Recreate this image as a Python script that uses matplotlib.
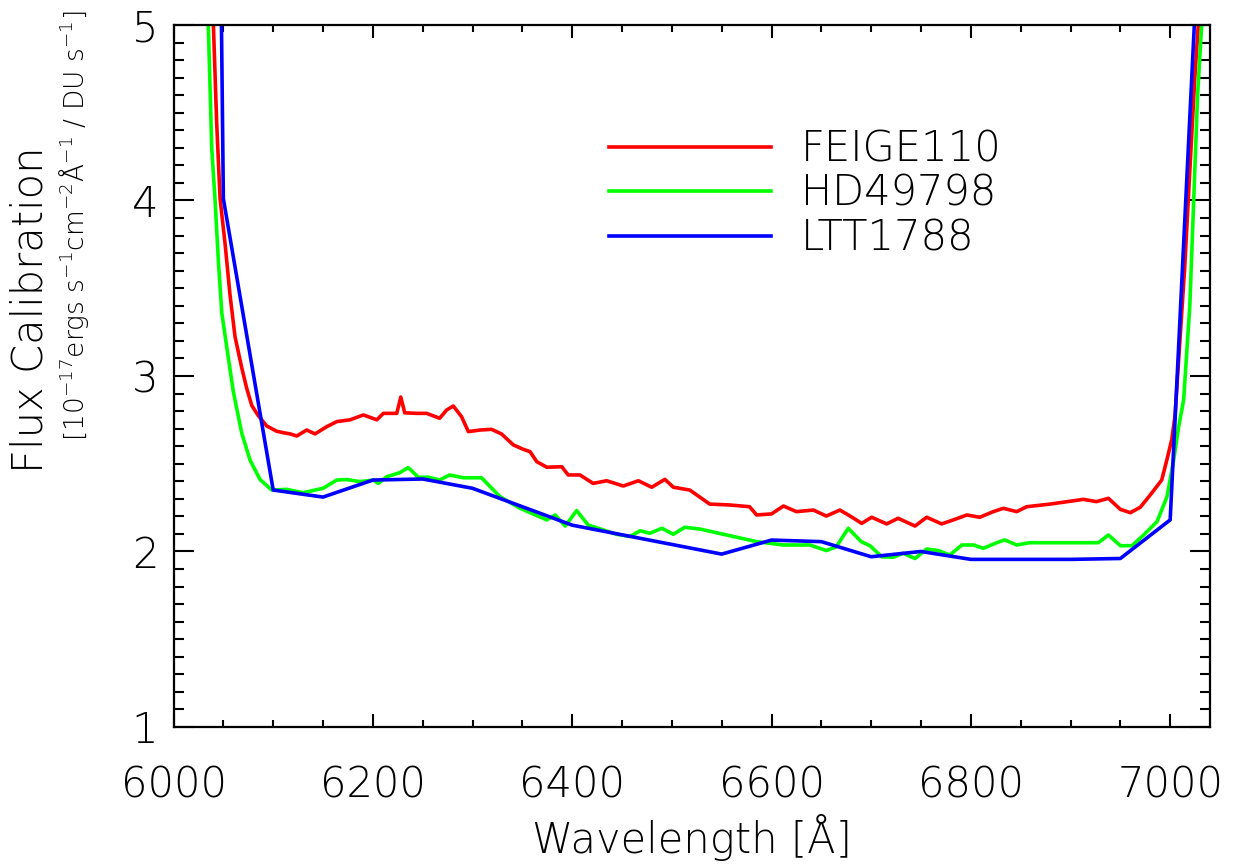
import matplotlib
matplotlib.use("Agg")
import matplotlib.pyplot as plt
from matplotlib.ticker import MultipleLocator

plt.rcParams['font.family'] = ['DejaVu Sans']
plt.rcParams['font.weight'] = 'light'
plt.rcParams['axes.labelweight'] = 'light'
plt.rcParams['mathtext.default'] = 'regular'

# --- data ---
wave_feige = [6035, 6040, 6043.3, 6046.7, 6051.7, 6056.7, 6061.7, 6068.4, 6073.4, 6078.5,
              6085, 6093.5, 6103.5, 6110, 6117, 6123.6, 6133.6, 6142, 6153.7, 6163.8,
              6177, 6190.5, 6204, 6210.5, 6224, 6228, 6232, 6244, 6254, 6267,
              6274, 6280.7, 6289, 6295.8, 6307.5, 6319, 6329, 6341, 6351, 6357.7,
              6364.4, 6374.5, 6389.5, 6396, 6407.8, 6421, 6434.6, 6451.3, 6466.4, 6479.8,
              6493, 6501.5, 6518, 6538, 6558, 6578, 6585, 6600, 6612, 6625,
              6642, 6655, 6668.6, 6680, 6690.5, 6700.5, 6715.5, 6727, 6744, 6755.7,
              6770.7, 6782.5, 6796, 6809, 6822.5, 6832.6, 6846, 6856, 6879.5, 6913,
              6926, 6938, 6950, 6960, 6970, 6980, 6991.5, 6996.6, 7001.5, 7004.8,
              7009.5, 7014.6, 7019.7, 7024.8, 7028.2, 7035]
flux_feige = [5.6, 5.0, 4.44, 4.01, 3.754, 3.46, 3.224, 3.048, 2.93, 2.832,
              2.774, 2.715, 2.685, 2.677, 2.67, 2.658, 2.692, 2.67, 2.711, 2.74,
              2.75, 2.778, 2.75, 2.787, 2.787, 2.88, 2.79, 2.787, 2.787, 2.759,
              2.806, 2.829, 2.768, 2.683, 2.692, 2.696, 2.67, 2.607, 2.582, 2.569,
              2.512, 2.48, 2.483, 2.436, 2.436, 2.388, 2.403, 2.373, 2.403, 2.366,
              2.411, 2.366, 2.35, 2.27, 2.265, 2.255, 2.208, 2.214, 2.259, 2.227,
              2.236, 2.202, 2.236, 2.198, 2.16, 2.195, 2.157, 2.189, 2.145, 2.195,
              2.157, 2.18, 2.208, 2.195, 2.227, 2.246, 2.227, 2.255, 2.27, 2.297,
              2.284, 2.303, 2.24, 2.221, 2.252, 2.322, 2.407, 2.52, 2.635, 2.77,
              3.18, 3.62, 4.17, 4.71, 5.0, 6.0]

wave_hd = [6030, 6034.9, 6038.3, 6041.6, 6045, 6048.4, 6053.4, 6060, 6068.4, 6076.8,
           6086.8, 6098.5, 6113.5, 6130, 6150, 6163.8, 6173.8, 6187, 6200.5, 6205.5,
           6214, 6227, 6235.5, 6245.6, 6255.7, 6267, 6277, 6290.7, 6309, 6327.6,
           6347.7, 6374.5, 6383, 6393, 6404.5, 6416, 6431, 6444.6, 6458, 6468,
           6478, 6490, 6501.5, 6513, 6528, 6585, 6612, 6638.6, 6655, 6665,
           6677, 6690, 6699, 6710.5, 6722, 6732, 6744, 6755.7, 6767.4, 6779,
           6791, 6802.5, 6812.5, 6826, 6834, 6846, 6859, 6928, 6938, 6950,
           6961.7, 6973.4, 6986.8, 6996.8, 7003.5, 7008.5, 7013.5, 7019.7, 7024, 7027.5,
           7031.6, 7040]
flux_hd = [5.6, 5.0, 4.30, 4.01, 3.655, 3.36, 3.165, 2.91, 2.675, 2.52,
           2.41, 2.35, 2.354, 2.335, 2.36, 2.407, 2.41, 2.398, 2.407, 2.388,
           2.426, 2.449, 2.478, 2.423, 2.423, 2.407, 2.436, 2.42, 2.42, 2.312,
           2.246, 2.18, 2.208, 2.145, 2.233, 2.151, 2.123, 2.098, 2.085, 2.118,
           2.104, 2.132, 2.098, 2.138, 2.128, 2.056, 2.037, 2.037, 2.005, 2.027,
           2.132, 2.056, 2.032, 1.97, 1.967, 1.99, 1.96, 2.014, 2.005, 1.98,
           2.037, 2.037, 2.018, 2.05, 2.066, 2.037, 2.05, 2.05, 2.094, 2.033,
           2.033, 2.094, 2.17, 2.312, 2.52, 2.71, 2.863, 3.40, 4.06, 4.60,
           5.0, 6.5]

wave_ltt = [6000, 6050, 6100, 6150, 6200, 6250, 6300, 6350, 6400, 6450,
            6500, 6550, 6600, 6650, 6700, 6750, 6800, 6850, 6900, 6950,
            7000, 7050]
flux_ltt = [30.0, 4.01, 2.35, 2.31, 2.407, 2.413, 2.36, 2.255, 2.15, 2.095,
            2.04, 1.985, 2.065, 2.056, 1.97, 2.0, 1.955, 1.955, 1.955, 1.96,
            2.18, 8.0]

star_names = ['FEIGE110', 'HD49798', 'LTT1788']

fig = plt.figure(figsize=(12.36, 8.67), dpi=100)
ax = fig.add_axes([0.1404, 0.1615, 0.979 - 0.1404, 0.9712 - 0.1615])

ax.plot(wave_feige, flux_feige, color='#ff0000', lw=2.6, label=star_names[0])
ax.plot(wave_hd, flux_hd, color='#00ff00', lw=2.6, label=star_names[1])
ax.plot(wave_ltt, flux_ltt, color='#0000ff', lw=2.6, label=star_names[2])

ax.set_xlim(6000, 7040)
ax.set_ylim(1, 5)
ax.xaxis.set_major_locator(MultipleLocator(200))
ax.xaxis.set_minor_locator(MultipleLocator(50))
ax.yaxis.set_major_locator(MultipleLocator(1))
ax.yaxis.set_minor_locator(MultipleLocator(0.1))

for sp in ax.spines.values():
    sp.set_linewidth(1.6)
ax.tick_params(axis='both', which='both', direction='in', top=True, right=True,
               width=1.5, labelsize=30)
ax.tick_params(axis='x', which='major', length=9.5, pad=27)
ax.tick_params(axis='x', which='minor', length=5)
ax.tick_params(axis='y', which='major', length=14.5, pad=11)
ax.tick_params(axis='y', which='minor', length=7.2)

ax.set_xlabel('Wavelength [Å]', fontsize=30, labelpad=6, fontweight='light')

# two-line y title, placed like the original
fig.text(30 / 1236, 1 - 310 / 867, 'Flux Calibration', rotation=90,
         ha='center', va='center', fontsize=30)
units = fig.text(74 / 1236, 1 - 226 / 867,
                 r'[10$^{-17}$ergs s$^{-1}$cm$^{-2}$Å$^{-1}$ / DU s$^{-1}$]',
                 rotation=90, ha='center', va='center', fontsize=24)
# scale the units line so it spans the same height as in the original (~430 px)
renderer = fig.canvas.get_renderer()
span = units.get_window_extent(renderer).height
units.set_fontsize(min(30, 24 * 430 / span))

ax.legend(loc='upper left', bbox_to_anchor=(0.42, 0.853), frameon=False,
          fontsize=30, handlelength=3.9, handletextpad=0.72, labelspacing=0.09,
          borderpad=0, borderaxespad=0)

fig.savefig('out.png', dpi=100)
